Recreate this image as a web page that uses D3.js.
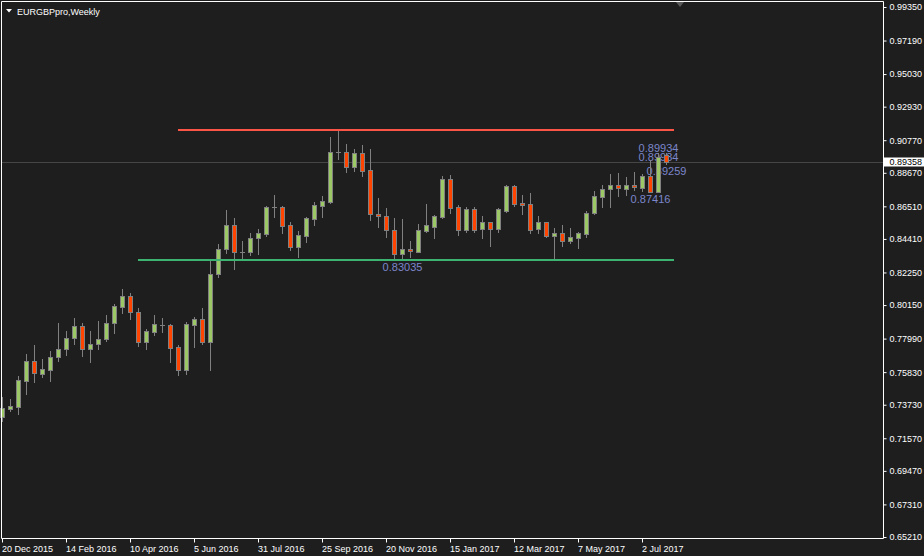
<!DOCTYPE html>
<html><head><meta charset="utf-8">
<script src="https://cdn.jsdelivr.net/npm/d3@7"></script>
<style>html,body{margin:0;padding:0;background:#1e1e1e;overflow:hidden}</style>
</head><body><svg id="c" width="924" height="556"></svg>
<script>
// ---- data ----
const symbolTitle = "EURGBPpro,Weekly";
const firstWeek = "2015-12-20";
const openP = [0.7292,0.7348,0.7360,0.7528,0.7653,0.7573,0.7599,0.7679,0.7730,0.7801,
 0.7880,0.7734,0.7762,0.7795,0.7898,0.8005,0.8072,0.7968,0.7775,0.7844,
 0.7889,0.7887,0.7745,0.7595,0.7889,0.7925,0.7779,0.8213,0.8374,0.8529,
 0.8357,0.8355,0.8445,0.8475,0.8645,0.8645,0.8529,0.8391,0.8462,0.8571,
 0.8655,0.8677,0.8999,0.8999,0.8903,0.8993,0.8884,0.8600,0.8587,0.8499,
 0.8342,0.8376,0.8359,0.8494,0.8520,0.8584,0.8827,0.8647,0.8499,0.8634,
 0.8503,0.8550,0.8507,0.8623,0.8782,0.8674,0.8666,0.8503,0.8550,0.8463,
 0.8477,0.8430,0.8445,0.8471,0.8606,0.8713,0.8761,0.8787,0.8765,0.8788,
 0.8771,0.8846,0.8745,0.8982];
const highP = [0.7425,0.7408,0.7558,0.7700,0.7758,0.7668,0.7719,0.7900,0.7848,0.7932,
 0.7900,0.7848,0.7912,0.7951,0.8022,0.8119,0.8093,0.7996,0.7861,0.7951,
 0.7932,0.7893,0.7760,0.7906,0.7938,0.7996,0.8312,0.8408,0.8627,0.8576,
 0.8428,0.8477,0.8503,0.8653,0.8724,0.8653,0.8550,0.8492,0.8582,0.8677,
 0.8718,0.9096,0.9140,0.9053,0.9020,0.9046,0.9020,0.8703,0.8640,0.8574,
 0.8568,0.8428,0.8537,0.8666,0.8595,0.8846,0.8853,0.8660,0.8649,0.8645,
 0.8589,0.8553,0.8642,0.8790,0.8788,0.8722,0.8737,0.8589,0.8552,0.8510,
 0.8531,0.8510,0.8484,0.8621,0.8750,0.8788,0.8859,0.8864,0.8842,0.8874,
 0.8857,0.8950,0.89934,0.8993];
const lowP = [0.7268,0.7335,0.7313,0.7442,0.7519,0.7550,0.7529,0.7655,0.7695,0.7764,
 0.7687,0.7650,0.7734,0.7784,0.7833,0.7962,0.7923,0.7753,0.7734,0.7820,
 0.7844,0.7650,0.7567,0.7573,0.7745,0.7766,0.7599,0.8198,0.8349,0.8249,
 0.8305,0.8336,0.8342,0.8462,0.8584,0.8481,0.8372,0.8327,0.8419,0.8533,
 0.8584,0.8671,0.8959,0.8874,0.8879,0.8846,0.8563,0.8520,0.8455,0.8306,
 0.83035,0.8327,0.8354,0.8488,0.8449,0.8579,0.8606,0.8466,0.8488,0.8488,
 0.8449,0.8398,0.8488,0.8617,0.8653,0.8600,0.8481,0.8477,0.8452,0.8307,
 0.8396,0.8417,0.8381,0.8455,0.8600,0.8649,0.8649,0.8718,0.8724,0.8756,
 0.8752,0.87416,0.8744,0.89259];
const closeP = [0.7350,0.7363,0.7530,0.7653,0.7575,0.7601,0.7679,0.7730,0.7803,0.7880,
 0.7734,0.7762,0.7796,0.7900,0.8007,0.8072,0.7968,0.7775,0.7848,0.7893,
 0.7889,0.7740,0.7595,0.7893,0.7925,0.7779,0.8215,0.8376,0.8529,0.8355,
 0.8357,0.8445,0.8477,0.8645,0.8645,0.8526,0.8391,0.8464,0.8574,0.8658,
 0.8683,0.8999,0.8999,0.8903,0.8993,0.8881,0.8600,0.8587,0.8497,0.8342,
 0.8376,0.8361,0.8499,0.8531,0.8589,0.8827,0.8642,0.8499,0.8634,0.8499,
 0.8550,0.8505,0.8634,0.8782,0.8666,0.8662,0.8501,0.8550,0.8460,0.8477,
 0.8430,0.8452,0.8477,0.8610,0.8718,0.8761,0.8787,0.8767,0.8787,0.8774,
 0.8846,0.8745,0.8971,0.89358];
const xTickLabels = ["20 Dec 2015","14 Feb 2016","10 Apr 2016","5 Jun 2016","31 Jul 2016",
 "25 Sep 2016","20 Nov 2016","15 Jan 2017","12 Mar 2017","7 May 2017","2 Jul 2017"];
const yTickLabels = ["0.99350","0.97190","0.95030","0.92930","0.90770","0.88670","0.86510",
 "0.84410","0.82250","0.80150","0.77990","0.75830","0.73730","0.71570","0.69470","0.67310","0.65210"];
const lastPrice = 0.89358;
const levelPrices = [0.9143, 0.83035];
const levelFrom = [22, 17];
const levelTo = [84, 84];
const annBar = [82, 82, 83, 81, 50];
const annValue = [0.89934, 0.89934, 0.89259, 0.87416, 0.83035];
const annSide = ["above", "at", "below", "below", "below"];

// ---- layout / styles ----
const W = 924, H = 556;
const plotL = 1.5, plotT = 1.5, plotR = 883.5, plotB = 538.5;
const FONT = "'Liberation Sans', Arial, sans-serif";
const bullFill = "#9dc866", bearFill = "#ff4500", candleLine = "#808080";
const levelColors = ["#fa5546", "#3cb371"];
const annColor = "#7c86cc";

const svg = d3.select("#c");
svg.append("rect").attr("width", W).attr("height", H).attr("fill", "#1e1e1e");

const x = d3.scaleLinear().domain([0, 110]).range([2, 882]);
const y = d3.scaleLinear().domain([0.6521, 0.9935]).range([537, 7]);
const yTickValues = yTickLabels.map(Number);

const bars = openP.map((o, i) => ({i, o, h: highP[i], l: lowP[i], c: closeP[i]}));
const crisp = v => Math.round(v) + 0.5;

// current price line
svg.append("line").attr("x1", plotL).attr("x2", plotR)
  .attr("y1", crisp(y(lastPrice))).attr("y2", crisp(y(lastPrice)))
  .attr("stroke", "#464646").attr("stroke-width", 1);

// annotations (behind candles)
const sideOffset = {above: -5, at: 4, below: 7};
svg.append("g").selectAll("text").data(annValue).join("text")
  .attr("x", (v, j) => x(annBar[j]) + 0.5)
  .attr("y", (v, j) => y(v) + sideOffset[annSide[j]])
  .attr("dy", "0.35em")
  .attr("text-anchor", "middle")
  .attr("font-family", FONT).attr("font-size", 11)
  .attr("fill", annColor)
  .text(v => v.toFixed(5));

// candles
const cg = svg.append("g");
const cand = cg.selectAll("g").data(bars).join("g");
cand.append("line")
  .attr("x1", d => crisp(x(d.i))).attr("x2", d => crisp(x(d.i)))
  .attr("y1", d => Math.round(y(d.h))).attr("y2", d => Math.round(y(d.l)) + 1)
  .attr("stroke", candleLine).attr("stroke-width", 1);
cand.filter(d => d.o !== d.c).append("rect")
  .attr("x", d => Math.round(x(d.i)) - 2 + 0.5)
  .attr("width", 4)
  .attr("y", d => crisp(y(Math.max(d.o, d.c))))
  .attr("height", d => Math.max(1, Math.round(y(Math.min(d.o, d.c))) - Math.round(y(Math.max(d.o, d.c)))))
  .attr("fill", d => d.c > d.o ? bullFill : bearFill)
  .attr("stroke", candleLine).attr("stroke-width", 1);
cand.filter(d => d.o === d.c).append("line")
  .attr("x1", d => Math.round(x(d.i)) - 2).attr("x2", d => Math.round(x(d.i)) + 3)
  .attr("y1", d => crisp(y(d.o))).attr("y2", d => crisp(y(d.o)))
  .attr("stroke", candleLine).attr("stroke-width", 1);

// horizontal levels
svg.append("g").selectAll("line").data(levelPrices).join("line")
  .attr("x1", (p, j) => x(levelFrom[j])).attr("x2", (p, j) => x(levelTo[j]))
  .attr("y1", p => Math.round(y(p))).attr("y2", p => Math.round(y(p)))
  .attr("stroke", (p, j) => levelColors[j]).attr("stroke-width", 2);

// frame
svg.append("path")
  .attr("d", `M${plotR},${plotB}H${plotL}V${plotT}H${plotR}V${plotB}`)
  .attr("fill", "none").attr("stroke", "#ffffff").attr("stroke-width", 1);

// right axis
const ay = svg.append("g").attr("transform", `translate(${plotR},0)`)
  .call(d3.axisRight(y).tickValues(yTickValues).tickFormat((d, j) => yTickLabels[j])
    .tickSize(3).tickSizeOuter(0).tickPadding(3));
ay.select(".domain").remove();
ay.selectAll("line").attr("stroke", "#ffffff");
ay.selectAll("text").attr("fill", "#ffffff").attr("font-family", FONT).attr("font-size", 9);

// bottom axis
const xTickIdx = xTickLabels.map((s, j) => j * 8);
const ax = svg.append("g").attr("transform", `translate(0,${plotB})`)
  .call(d3.axisBottom(x).tickValues(xTickIdx).tickFormat((d, j) => xTickLabels[j])
    .tickSize(4).tickSizeOuter(0));
ax.select(".domain").remove();
ax.selectAll("line").attr("stroke", "#ffffff");
ax.selectAll("text").attr("fill", "#ffffff").attr("font-family", FONT).attr("font-size", 9)
  .attr("text-anchor", "start").attr("x", -0.5).attr("y", 13.5).attr("dy", 0);

// last price box
const ly = y(lastPrice);
svg.append("rect").attr("x", plotR + 0.5).attr("y", Math.round(ly) - 4.5)
  .attr("width", W - plotR).attr("height", 9).attr("fill", "#ffffff");
svg.append("text").attr("x", plotR + 6).attr("y", ly).attr("dy", "0.35em")
  .attr("font-family", FONT).attr("font-size", 9).attr("fill", "#000000")
  .text(lastPrice.toFixed(5));

// chart shift marker
const sx = x(bars.length + 0.75);
svg.append("path").attr("d", `M${sx - 4},2L${sx + 4},2L${sx},7Z`).attr("fill", "#5a5a5a");

// title
svg.append("path").attr("d", "M6,9L12,9L9,12.5Z").attr("fill", "#ffffff");
svg.append("text").attr("x", 17).attr("y", 14.5)
  .attr("font-family", FONT).attr("font-size", 9).attr("fill", "#ffffff")
  .text(symbolTitle);
</script>
</body></html>
